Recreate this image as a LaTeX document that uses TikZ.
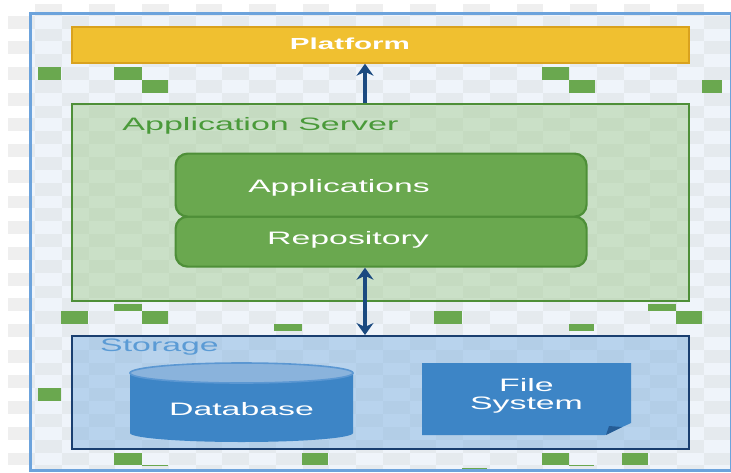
\documentclass[tikz,border=0pt]{standalone}
\usepackage{graphicx}
\usepackage{fontspec}
\setmainfont{Liberation Sans}
\usetikzlibrary{arrows.meta}
\definecolor{outgrey}{HTML}{EFEFEF}
\definecolor{inlight}{HTML}{EFF4FA}
\definecolor{ingrey}{HTML}{E5EAEE}
\definecolor{frameblue}{HTML}{6CA3DC}
\definecolor{cellgreen}{HTML}{6AA84F}
\definecolor{boxgreen}{HTML}{6AA84F}
\definecolor{edgegreen}{HTML}{4E8F38}
\definecolor{labelgreen}{HTML}{4A9A3A}
\definecolor{appfill}{HTML}{A7CE96}
\definecolor{storefill}{HTML}{83B4E2}
\definecolor{navy}{HTML}{1B4A80}
\definecolor{deepnavy}{HTML}{1A3F70}
\definecolor{midblue}{HTML}{3D85C6}
\definecolor{capblue}{HTML}{8AB3DC}
\definecolor{capedge}{HTML}{5B97D2}
\definecolor{labelblue}{HTML}{5B9BD5}
\definecolor{amber}{HTML}{F0C030}
\definecolor{amberedge}{HTML}{D9A21E}
\newcommand{\wide}[2]{\scalebox{#1}[1]{#2}}
\tikzset{
  panel/.style={rectangle,inner sep=0pt,line width=2.2pt,anchor=north west},
  pill/.style={rectangle,rounded corners=12pt,inner sep=0pt,draw=edgegreen,fill=boxgreen,line width=2.2pt},
  whitetext/.style={text=white,font=\fontsize{18}{20}\selectfont,inner sep=0pt},
  link/.style={navy,line width=3.6pt},
  cell/.style={fill=cellgreen,draw=none}
}
\begin{document}
\begin{tikzpicture}[x=1pt,y=-1pt]
\useasboundingbox (0,0) rectangle (731,472);
\fill[white] (0,0) rectangle (731,472);
% outer checker
\begin{scope}
\clip (6,4) rectangle (731,471);
\foreach \c in {0,...,27}{\foreach \r in {0,...,36}{
  \pgfmathtruncatemacro{\odd}{mod(\c+\r,2)}
  \ifnum\odd=1
    \fill[outgrey] ({8.25+26.75*\c},{2.8+12.85*\r}) rectangle ++(26.75,12.85);
  \fi}}
\end{scope}
% inner checker
\begin{scope}
\clip (29,12) rectangle (730,469);
\fill[inlight] (29,12) rectangle (730,469);
\foreach \c in {0,...,27}{\foreach \r in {0,...,36}{
  \pgfmathtruncatemacro{\odd}{mod(\c+\r,2)}
  \ifnum\odd=1
    \fill[ingrey] ({8.25+26.75*\c},{2.8+12.85*\r}) rectangle ++(26.75,12.85);
  \fi}}
\end{scope}
% green cells
\foreach \xa/\ya/\xb/\yb in {
  38/67/61/80, 114/67/142/80, 142/80/168/93, 542/67/569/80, 569/80/595/93, 702/80/722/93,
  61/311/88/324, 114/304/142/311, 142/311/168/324, 274/324/302/331,
  434/311/462/324, 648/304/676/311, 676/311/702/324, 569/324/594/331,
  38/388/61/401, 114/453/142/465, 302/453/328/465, 542/453/569/465, 622/453/648/465,
  142/465/168/466, 569/465/594/466, 462/468/487/469}
  {\fill[cell] (\xa,\ya) rectangle (\xb,\yb);}
% frame
\node[panel,draw=frameblue,line width=3pt,minimum width=701pt,minimum height=457pt] (frame) at (28.5,12) {};
% platform
\node[panel,draw=amberedge,fill=amber,minimum width=616.5pt,minimum height=36pt] (platform) at (71,25.5) {};
\node[whitetext,font=\fontsize{16}{18}\bfseries\selectfont] (platformlabel) at (350,44) {\wide{1.85}{Platform}};
% application server
\node[panel,draw=edgegreen,fill=appfill,fill opacity=.5,minimum width=616.5pt,minimum height=197pt] (app) at (71,103) {};
\node[text=labelgreen,font=\fontsize{18}{20}\selectfont,inner sep=0pt] (applabel) at (260.5,126) {\wide{1.89}{Application Server}};
\node[pill,minimum width=411pt,minimum height=50pt,anchor=north west] (repo) at (174.5,215.5) {};
\node[pill,minimum width=411pt,minimum height=63pt,anchor=north west] (apps) at (174.5,152.5) {};
\node[whitetext] (appslabel) at (339,188) {\wide{1.87}{Applications}};
\node[whitetext] (repolabel) at (348,240) {\wide{1.88}{Repository}};
% storage
\node[panel,draw=deepnavy,fill=storefill,fill opacity=.5,minimum width=616.5pt,minimum height=113pt] (storage) at (71,335) {};
\node[panel,draw=deepnavy,minimum width=616.5pt,minimum height=113pt] (storageedge) at (71,335) {};
\node[text=labelblue,font=\fontsize{18}{20}\selectfont,inner sep=0pt] (storagelabel) at (159.5,347) {\wide{1.88}{Storage}};
% database
\fill[midblue] (130,373) -- (130,433) arc[start angle=180,end angle=0,x radius=111.5,y radius=9] -- (353,373) -- cycle;
\filldraw[fill=capblue,draw=capedge,line width=1.6pt] (241.5,373) ellipse[x radius=111.5,y radius=10];
\node[whitetext] (dblabel) at (241.5,409) {\wide{1.88}{Database}};
% file system
\fill[midblue] (422,363) -- (631,363) -- (631,423) -- (605,435) -- (422,435) -- cycle;
\fill[navy!70!midblue] (622,427) -- (606,435) -- (609,426) -- cycle;
\node[whitetext] (filelabel) at (526.5,385) {\wide{1.88}{File}};
\node[whitetext] (systemlabel) at (526.5,405) {\wide{1.88}{System}};
% connectors
\coordinate (axis) at (365,0);
\draw[link,-{Stealth[length=12pt,width=17pt]}] (axis |- app.north) -- (axis |- platform.south);
\draw[link,{Stealth[length=12pt,width=17pt]}-{Stealth[length=12pt,width=17pt]}] (axis |- repo.south) -- (axis |- storage.north);
\end{tikzpicture}
\end{document}
